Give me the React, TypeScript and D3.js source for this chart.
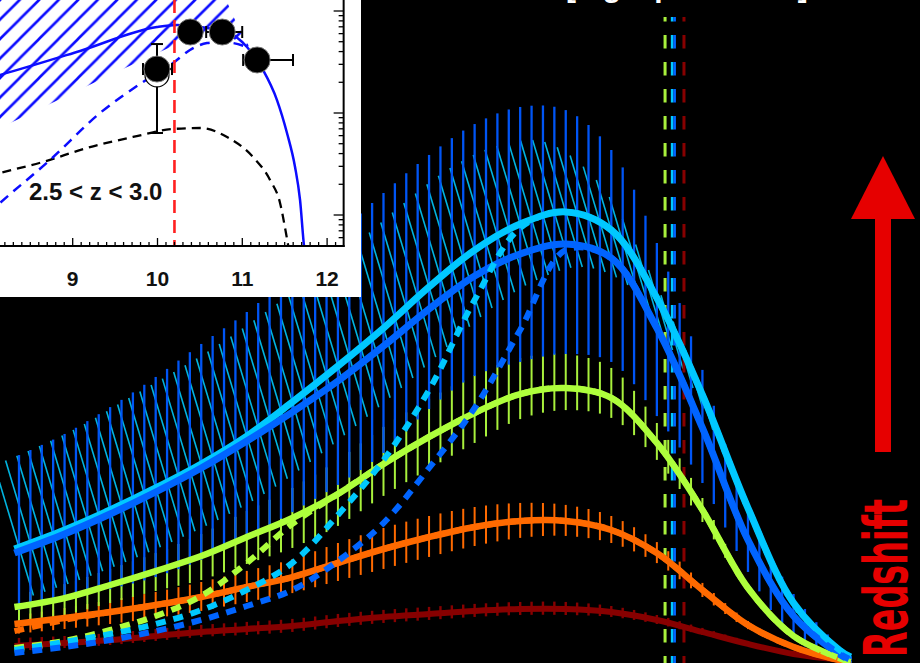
import React, { useEffect, useRef } from "react";
import * as d3 from "d3";

const WIDTH = 920;
const HEIGHT = 663;

// ---------- main panel: stellar mass functions, log Phi vs log M* ----------
// model mass grid (log M*/Msun)
const massGrid = [7.98, 8.2, 8.4, 8.6, 8.8, 9.0, 9.2, 9.4, 9.6, 9.8, 10.0, 10.2, 10.4, 10.6, 10.8, 11.0, 11.2, 11.4, 11.6, 11.65];

// total mass functions (log Phi) per redshift bin
const phiDarkRed = [-5.307, -5.287, -5.267, -5.240, -5.213, -5.193, -5.173, -5.140, -5.113, -5.093, -5.073, -5.060, -5.060, -5.080, -5.133, -5.213, -5.293, -5.360, -5.400, -5.413];
const phiOrange = [-5.160, -5.120, -5.080, -5.033, -4.980, -4.913, -4.847, -4.753, -4.660, -4.580, -4.513, -4.473, -4.473, -4.533, -4.687, -4.933, -5.167, -5.313, -5.400, -5.413];
const phiGreen = [-5.047, -4.987, -4.900, -4.807, -4.707, -4.580, -4.453, -4.293, -4.093, -3.913, -3.753, -3.627, -3.587, -3.653, -3.953, -4.400, -4.920, -5.240, -5.387, -5.413];
const phiCyan = [-4.660, -4.533, -4.400, -4.253, -4.093, -3.907, -3.680, -3.440, -3.187, -2.913, -2.667, -2.493, -2.413, -2.533, -2.987, -3.633, -4.387, -5.020, -5.333, -5.380];
const phiBlue = [-4.687, -4.560, -4.427, -4.280, -4.120, -3.940, -3.747, -3.540, -3.307, -3.060, -2.840, -2.693, -2.627, -2.720, -3.187, -3.853, -4.600, -5.107, -5.360, -5.400];

// single-component (dashed) mass functions
const phiOrangeDash = [-5.207, -5.133, -5.080, -5.033, -4.980, -4.913, -4.847, -4.753, -4.660, -4.580, -4.513, -4.473, -4.473, -4.533, -4.687, -4.933, -5.167, -5.313, -5.400, -5.413];
const phiGreenDash = [-5.320, -5.273, -5.200, -5.107, -4.973, -4.753, -4.493, -4.293, -4.093, -3.913, -3.753, -3.627, -3.587, -3.653, -3.953, -4.400, -4.920, -5.240, -5.387, -5.413];
const phiCyanDash = [-5.333, -5.280, -5.227, -5.160, -5.067, -4.933, -4.753, -4.433, -4.067, -3.600, -3.000, -2.520, -2.413, -2.533, -2.987, -3.633, -4.387, -5.020, -5.333, -5.380];
const phiBlueDash = [-5.353, -5.313, -5.267, -5.207, -5.133, -5.040, -4.933, -4.740, -4.487, -4.120, -3.720, -3.200, -2.667, -2.720, -3.187, -3.853, -4.600, -5.107, -5.360, -5.400];

// upper / lower uncertainties (dex)
const errUpDarkRed = [0.053, 0.047, 0.047, 0.047, 0.047, 0.047, 0.047, 0.047, 0.047, 0.047, 0.047, 0.047, 0.047, 0.040, 0.033, 0.027, 0.020, 0.013, 0.007, 0.003];
const errLoDarkRed = [0.033, 0.033, 0.033, 0.033, 0.033, 0.040, 0.040, 0.040, 0.040, 0.040, 0.040, 0.040, 0.040, 0.033, 0.027, 0.020, 0.013, 0.007, 0.007, 0.003];
const errUpOrange = [0.053, 0.067, 0.080, 0.087, 0.100, 0.107, 0.120, 0.133, 0.140, 0.140, 0.133, 0.120, 0.107, 0.093, 0.073, 0.047, 0.027, 0.013, 0.007, 0.003];
const errLoOrange = [0.067, 0.073, 0.080, 0.087, 0.093, 0.100, 0.107, 0.120, 0.133, 0.133, 0.127, 0.113, 0.100, 0.087, 0.067, 0.047, 0.027, 0.013, 0.007, 0.003];
const errUpGreen = [0.080, 0.093, 0.107, 0.120, 0.147, 0.173, 0.200, 0.227, 0.247, 0.253, 0.253, 0.240, 0.227, 0.200, 0.133, 0.080, 0.020, 0.007, 0.007, 0.007];
const errLoGreen = [0.107, 0.113, 0.120, 0.133, 0.160, 0.180, 0.200, 0.213, 0.213, 0.213, 0.200, 0.167, 0.147, 0.133, 0.113, 0.080, 0.020, 0.007, 0.007, 0.007];
const errUpCyan = [0.547, 0.560, 0.573, 0.600, 0.613, 0.613, 0.600, 0.587, 0.573, 0.560, 0.547, 0.520, 0.467, 0.333, 0.187, 0.120, 0.080, 0.053, 0.020, 0.013];
const errLoCyan = [0.320, 0.333, 0.347, 0.360, 0.373, 0.387, 0.400, 0.400, 0.400, 0.400, 0.387, 0.373, 0.367, 0.367, 0.347, 0.233, 0.133, 0.067, 0.027, 0.013];
const errUpBlue = [0.640, 0.667, 0.713, 0.767, 0.827, 0.860, 0.920, 0.980, 1.020, 1.027, 1.013, 0.980, 0.893, 0.720, 0.567, 0.387, 0.200, 0.147, 0.053, 0.027];
const errLoBlue = [0.387, 0.433, 0.500, 0.567, 0.613, 0.647, 0.667, 0.693, 0.713, 0.667, 0.667, 0.720, 0.733, 0.693, 0.587, 0.367, 0.213, 0.147, 0.053, 0.027];

// characteristic masses marked by vertical dashed lines
const charMass = [10.836, 10.867, 10.878, 10.919];
const charColor = ["#a8f03c", "#00c8ff", "#0064ff", "#870000"];

// error bars are plotted every 0.05 dex
const barMassStart = 8.0;
const barMassEnd = 11.65;
const barMassStep = 0.05;

// ---------- inset: 2.5 < z < 3.0 ----------
const insetTicks = [9, 10, 11, 12];
const insetBlackMass = [8.0, 8.143, 8.65, 9.169, 9.711, 10.183, 10.501, 10.82, 11.126, 11.327, 11.445, 11.515, 11.55];
const insetBlackPhi = [-4.62, -4.588, -4.48, -4.343, -4.235, -4.157, -4.147, -4.235, -4.431, -4.657, -4.882, -5.176, -5.343];
const insetDashMass = [8.0, 8.143, 8.732, 9.322, 9.829, 10.183, 10.383, 10.584, 10.737, 10.89, 11.055];
const insetDashPhi = [-4.99, -4.882, -4.461, -4.0, -3.696, -3.51, -3.382, -3.314, -3.304, -3.314, -3.353];
const insetFitMass = [8.0, 8.143, 9.087, 9.994, 10.23, 10.501, 10.82, 11.055, 11.244, 11.409, 11.527, 11.622, 11.681, 11.728, 11.75];
const insetFitPhi = [-3.66, -3.627, -3.392, -3.157, -3.137, -3.157, -3.206, -3.353, -3.578, -3.873, -4.196, -4.529, -4.853, -5.304, -5.441];
const hatchLowMass = [8.0, 8.143, 9.44, 10.206, 10.56, 10.855, 11.09];
const hatchLowPhi = [-4.22, -4.147, -3.627, -3.333, -3.245, -3.255, -3.363];
const hatchHighMass = [8.0, 10.761, 10.914, 11.09];
const hatchHighPhi = [-2.8, -2.8, -3.088, -3.363];
const obsMass = [9.994, 10.386, 10.763, 11.175];
const obsPhi = [-3.569, -3.206, -3.206, -3.48];
const obsMassLo = [9.829, 10.33, 10.574, 11.01];
const obsMassHi = [10.171, 10.44, 10.999, 11.598];
const obsPhiHi = [-3.324, -3.206, -3.206, -3.48];
const obsPhiLo = [-4.196, -3.206, -3.206, -3.48];
const altMass = [9.994];
const altPhi = [-3.627];
const cutMass = 10.2;

const SANS = "'Liberation Sans', Arial, Helvetica, sans-serif";

export default function App() {
  const ref = useRef<SVGSVGElement>(null);

  useEffect(() => {
    const svg = d3.select(ref.current);
    svg.selectAll("*").remove();

    const x = d3.scaleLinear().domain([8, 11.65]).range([19, 850.5]);
    const y = d3.scaleLinear().domain([-1, -5.42]).range([0, 663]);
    const lineGen = d3
      .line<number>()
      .x((_, i) => x(massGrid[i]))
      .y((d) => y(d))
      .curve(d3.curveCatmullRom.alpha(0.5));

    svg.append("rect").attr("width", WIDTH).attr("height", HEIGHT).attr("fill", "#000");

    const gBars = svg.append("g");
    const gRef = svg.append("g");
    const gLines = svg.append("g").attr("fill", "none");
    const gDash = svg.append("g").attr("fill", "none");
    const probe = svg.append("g").attr("visibility", "hidden");

    // returns a function giving the path's y at a given pixel x
    const sampler = (d: string) => {
      const p = probe.append("path").attr("d", d).node() as SVGPathElement;
      const L = p.getTotalLength();
      const n = 1200;
      const pts: { x: number; y: number }[] = [];
      for (let i = 0; i <= n; i++) {
        const pt = p.getPointAtLength((L * i) / n);
        pts.push({ x: pt.x, y: pt.y });
      }
      p.remove();
      pts.sort((a, b) => a.x - b.x);
      const xs = pts.map((q) => q.x);
      const ys = pts.map((q) => q.y);
      return (px: number) => {
        const j = d3.bisectLeft(xs, px);
        if (j <= 0) return ys[0];
        if (j >= xs.length) return ys[ys.length - 1];
        const dx = xs[j] - xs[j - 1] || 1;
        const t = (px - xs[j - 1]) / dx;
        return ys[j - 1] + t * (ys[j] - ys[j - 1]);
      };
    };

    const series = [
      { phi: phiDarkRed, up: errUpDarkRed, lo: errLoDarkRed, color: "#870000", bar: "#870000", bw: 2.4, lw: 6, slant: 0 },
      { phi: phiOrange, up: errUpOrange, lo: errLoOrange, color: "#ff6a00", bar: "#ff6a00", bw: 2, lw: 6.5, slant: 0 },
      { phi: phiGreen, up: errUpGreen, lo: errLoGreen, color: "#aeff3c", bar: "#a8f03c", bw: 2, lw: 6.5, slant: 0 },
      { phi: phiCyan, up: errUpCyan, lo: errLoCyan, color: "#00c8ff", bar: "#00b4e0", bw: 1.6, lw: 7, slant: 0.3 },
      { phi: phiBlue, up: errUpBlue, lo: errLoBlue, color: "#0064ff", bar: "#0055f5", bw: 2.3, lw: 7, slant: 0 },
    ];

    const barMass = d3
      .range(0, Math.round((barMassEnd - barMassStart) / barMassStep) + 1)
      .map((k) => barMassStart + k * barMassStep);

    series.forEach((s) => {
      const mid = sampler(lineGen(s.phi) as string);
      const hi = sampler(lineGen(s.phi.map((v, i) => v + s.up[i])) as string);
      const lo = sampler(lineGen(s.phi.map((v, i) => v - s.lo[i])) as string);
      const g = gBars.append("g").attr("stroke", s.bar).attr("stroke-width", s.bw);
      barMass.forEach((m) => {
        const px = x(m);
        const yc = mid(px);
        const yt = hi(px);
        const yb = lo(px);
        g.append("line")
          .attr("x1", px - s.slant * (yc - yt))
          .attr("y1", yt)
          .attr("x2", px + s.slant * (yb - yc))
          .attr("y2", yb);
      });
    });

    // characteristic-mass markers
    charMass.forEach((m, i) => {
      gRef
        .append("line")
        .attr("x1", x(m))
        .attr("x2", x(m))
        .attr("y1", 17)
        .attr("y2", HEIGHT)
        .attr("stroke", charColor[i])
        .attr("stroke-width", i === 1 || i === 2 ? 2.6 : 3)
        .attr("stroke-dasharray", "13.5 13.5")
        .attr("stroke-dashoffset", 9);
    });

    series.forEach((s) => {
      gLines
        .append("path")
        .attr("d", lineGen(s.phi) as string)
        .attr("stroke", s.color)
        .attr("stroke-width", s.lw)
        .attr("stroke-linejoin", "round");
    });

    const dashed = [
      { phi: phiOrangeDash, color: "#ff6a00" },
      { phi: phiGreenDash, color: "#aeff3c" },
      { phi: phiCyanDash, color: "#00c8ff" },
      { phi: phiBlueDash, color: "#0064ff" },
    ];
    dashed.forEach((s) => {
      gDash
        .append("path")
        .attr("d", lineGen(s.phi) as string)
        .attr("stroke", s.color)
        .attr("stroke-width", 6)
        .attr("stroke-dasharray", "10 8");
    });

    // header text running off the top edge
    svg
      .append("text")
      .attr("x", 566)
      .attr("y", -3)
      .attr("fill", "#fff")
      .attr("font-family", SANS)
      .attr("font-weight", "bold")
      .attr("font-size", 30)
      .text("[log Mpc\u207B\u00B3 dex\u207B\u00B9 ]");

    // redshift arrow and label
    svg.append("polygon").attr("points", "851,219 915,219 883,156").attr("fill", "#e60000");
    svg.append("rect").attr("x", 875).attr("y", 217).attr("width", 16).attr("height", 235).attr("fill", "#e60000");
    svg
      .append("text")
      .attr("transform", "translate(907,657) rotate(-90)")
      .attr("fill", "#e60000")
      .attr("font-family", "'Liberation Sans Narrow', 'DejaVu Sans Condensed', 'Open Sans', sans-serif")
      .attr("font-weight", "bold")
      .attr("font-size", 61)
      .attr("textLength", 158)
      .attr("lengthAdjust", "spacingAndGlyphs")
      .text("Redshift");

    // ---------------- inset ----------------
    const ix = d3.scaleLinear().domain([9, 12]).range([72.7, 327.1]);
    const iy = d3.scaleLog().domain([1e-5, 1e-4]).range([215, 113]);
    const frameRight = ix(12.195);
    const frameBottom = 246;
    const ip = (m: number, lp: number): [number, number] => [ix(m), iy(Math.pow(10, lp))];

    const inset = svg.append("g");
    inset.append("rect").attr("x", 0).attr("y", 0).attr("width", 361).attr("height", 297).attr("fill", "#fff");

    const defs = svg.append("defs");
    defs
      .append("clipPath")
      .attr("id", "inset-clip")
      .append("rect")
      .attr("x", 0)
      .attr("y", 0)
      .attr("width", frameRight)
      .attr("height", frameBottom);
    const pat = defs
      .append("pattern")
      .attr("id", "inset-hatch")
      .attr("patternUnits", "userSpaceOnUse")
      .attr("width", 19.5)
      .attr("height", 19.5);
    pat
      .append("path")
      .attr("d", "M-2,2 L2,-2 M0,19.5 L19.5,0 M17.5,21.5 L21.5,17.5")
      .attr("stroke", "#0c0cff")
      .attr("stroke-width", 2.6);

    const plot = inset.append("g").attr("clip-path", "url(#inset-clip)");

    const hatchPts = [
      ...hatchLowMass.map((m, i) => ip(m, hatchLowPhi[i])),
      ...hatchHighMass.map((m, i) => ip(m, hatchHighPhi[i])).reverse(),
    ];
    plot.append("path").attr("d", d3.line()(hatchPts) + "Z").attr("fill", "url(#inset-hatch)");

    const iline = d3.line<[number, number]>().curve(d3.curveMonotoneX);
    plot
      .append("path")
      .attr("d", iline(insetBlackMass.map((m, i) => ip(m, insetBlackPhi[i]))) as string)
      .attr("fill", "none")
      .attr("stroke", "#000")
      .attr("stroke-width", 2.3)
      .attr("stroke-dasharray", "9 6");
    plot
      .append("path")
      .attr("d", iline(insetDashMass.map((m, i) => ip(m, insetDashPhi[i]))) as string)
      .attr("fill", "none")
      .attr("stroke", "#0c0cff")
      .attr("stroke-width", 2.5)
      .attr("stroke-dasharray", "10 7");
    plot
      .append("path")
      .attr("d", iline(insetFitMass.map((m, i) => ip(m, insetFitPhi[i]))) as string)
      .attr("fill", "none")
      .attr("stroke", "#0c0cff")
      .attr("stroke-width", 2.5);
    plot
      .append("line")
      .attr("x1", ix(cutMass))
      .attr("x2", ix(cutMass))
      .attr("y1", 0)
      .attr("y2", frameBottom)
      .attr("stroke", "#ff2020")
      .attr("stroke-width", 2.6)
      .attr("stroke-dasharray", "13 7");

    // observed points with error bars
    const eb = plot.append("g").attr("stroke", "#000").attr("stroke-width", 2);
    obsMass.forEach((m, i) => {
      const [cx, cy] = ip(m, obsPhi[i]);
      const x0 = ix(obsMassLo[i]);
      const x1 = ix(obsMassHi[i]);
      const y0 = iy(Math.pow(10, obsPhiHi[i]));
      const y1 = iy(Math.pow(10, obsPhiLo[i]));
      if (x1 - x0 > 1) {
        eb.append("line").attr("x1", x0).attr("x2", x1).attr("y1", cy).attr("y2", cy);
        eb.append("line").attr("x1", x0).attr("x2", x0).attr("y1", cy - 6).attr("y2", cy + 6);
        eb.append("line").attr("x1", x1).attr("x2", x1).attr("y1", cy - 6).attr("y2", cy + 6);
      }
      if (y1 - y0 > 1) {
        eb.append("line").attr("x1", cx).attr("x2", cx).attr("y1", y0).attr("y2", y1);
        eb.append("line").attr("x1", cx - 6).attr("x2", cx + 6).attr("y1", y0).attr("y2", y0);
        eb.append("line").attr("x1", cx - 6).attr("x2", cx + 6).attr("y1", y1).attr("y2", y1);
      }
    });
    altMass.forEach((m, i) => {
      const [cx, cy] = ip(m, altPhi[i]);
      plot.append("circle").attr("cx", cx).attr("cy", cy).attr("r", 12).attr("fill", "#fff").attr("stroke", "#000").attr("stroke-width", 1.2);
    });
    obsMass.forEach((m, i) => {
      const [cx, cy] = ip(m, obsPhi[i]);
      plot.append("circle").attr("cx", cx).attr("cy", cy).attr("r", 13).attr("fill", "#000").attr("stroke", "#777").attr("stroke-width", 1);
    });

    // axes
    const ax = inset.append("g").attr("stroke", "#000");
    ax.append("line").attr("x1", 0).attr("x2", frameRight + 1).attr("y1", frameBottom).attr("y2", frameBottom).attr("stroke-width", 2);
    ax.append("line").attr("x1", frameRight).attr("x2", frameRight).attr("y1", 0).attr("y2", frameBottom + 1).attr("stroke-width", 2);
    d3.range(78, 122).forEach((k) => {
      const m = k / 10;
      const px = ix(m);
      if (px < 0 || px > frameRight - 1) return;
      const major = k % 10 === 0;
      ax.append("line")
        .attr("x1", px)
        .attr("x2", px)
        .attr("y1", frameBottom)
        .attr("y2", frameBottom - (major ? 8 : 4))
        .attr("stroke-width", 1.3);
    });
    [-6, -5, -4, -3].forEach((dec) => {
      d3.range(1, 10).forEach((k) => {
        const py = iy(k * Math.pow(10, dec));
        if (py < 1 || py > frameBottom - 1) return;
        ax.append("line")
          .attr("x1", frameRight)
          .attr("x2", frameRight - (k === 1 ? 10 : 5))
          .attr("y1", py)
          .attr("y2", py)
          .attr("stroke-width", 1.3);
      });
    });
    insetTicks.forEach((t) => {
      inset
        .append("text")
        .attr("x", ix(t))
        .attr("y", 286)
        .attr("text-anchor", "middle")
        .attr("font-family", SANS)
        .attr("font-weight", "bold")
        .attr("font-size", 21)
        .attr("fill", "#111")
        .text(String(t));
    });
    inset
      .append("text")
      .attr("x", 29)
      .attr("y", 200)
      .attr("font-family", SANS)
      .attr("font-weight", "bold")
      .attr("font-size", 24)
      .attr("fill", "#111")
      .text("2.5 < z < 3.0");
  }, []);

  return (
    <div style={{ position: "absolute", left: 0, top: 0, width: WIDTH, height: HEIGHT, background: "#000" }}>
      <svg ref={ref} width={WIDTH} height={HEIGHT} style={{ display: "block" }} />
    </div>
  );
}
